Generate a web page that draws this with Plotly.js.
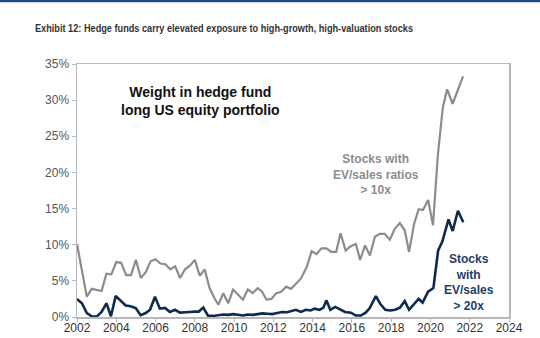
<!DOCTYPE html>
<html>
<head>
<meta charset="utf-8">
<script src="https://cdn.plot.ly/plotly-3.0.1.min.js"></script>
<style>
html,body{margin:0;padding:0;background:#fff;}
#chart{width:540px;height:338px;}
</style>
</head>
<body>
<div id="chart"></div>
<script>
// Stocks with EV/sales ratios > 10x (weight, %)
const grayYears = [2002.0,2002.5,2002.75,2003.0,2003.25,2003.5,2003.75,2004.0,2004.25,2004.5,2004.75,2005.0,2005.25,2005.5,2005.75,2006.0,2006.25,2006.5,2006.75,2007.0,2007.25,2007.5,2007.75,2008.0,2008.25,2008.5,2008.75,2009.0,2009.2,2009.45,2009.7,2009.95,2010.2,2010.45,2010.7,2010.95,2011.2,2011.4,2011.65,2011.9,2012.15,2012.4,2012.65,2012.9,2013.15,2013.4,2013.7,2013.95,2014.2,2014.45,2014.7,2014.95,2015.2,2015.42,2015.68,2015.94,2016.2,2016.42,2016.67,2016.92,2017.17,2017.42,2017.67,2017.93,2018.18,2018.44,2018.69,2018.91,2019.17,2019.4,2019.62,2019.88,2020.13,2020.38,2020.63,2020.85,2021.13,2021.4,2021.66];
const grayValues = [10.1,2.8,3.9,3.8,3.6,6.0,5.9,7.6,7.5,5.8,5.8,7.9,5.4,6.2,7.7,8.0,7.4,7.3,6.6,7.0,5.4,6.6,7.1,7.9,5.7,6.6,4.0,2.6,1.7,3.3,1.9,3.8,3.1,2.4,3.8,3.3,4.0,3.6,2.4,2.5,3.3,3.5,4.2,3.9,4.6,5.3,6.9,9.1,8.7,9.5,9.5,9.0,9.0,11.6,9.2,9.8,10.1,7.9,9.9,8.5,11.1,11.5,11.5,10.7,12.2,13.0,12.0,9.0,12.9,14.9,14.8,16.2,12.7,22.5,29.0,31.5,29.5,31.3,33.3];

// Stocks with EV/sales > 20x (weight, %)
const blueYears = [2002.0,2002.25,2002.5,2002.75,2003.0,2003.25,2003.5,2003.73,2003.97,2004.22,2004.48,2004.73,2004.99,2005.24,2005.5,2005.72,2005.97,2006.22,2006.48,2006.73,2006.99,2007.24,2007.5,2007.75,2008.0,2008.2,2008.43,2008.68,2008.93,2009.2,2009.45,2009.7,2009.95,2010.2,2010.45,2010.7,2010.95,2011.2,2011.45,2011.7,2011.95,2012.2,2012.45,2012.7,2012.95,2013.15,2013.4,2013.65,2013.9,2014.1,2014.35,2014.55,2014.7,2014.9,2015.15,2015.4,2015.65,2015.95,2016.2,2016.45,2016.7,2016.9,2017.22,2017.45,2017.7,2017.95,2018.2,2018.45,2018.69,2018.91,2019.17,2019.4,2019.6,2019.88,2020.15,2020.39,2020.6,2020.92,2021.13,2021.4,2021.67];
const blueValues = [2.5,1.9,0.55,0.1,0.05,0.7,1.9,0.1,2.9,2.2,1.6,1.5,1.25,0.25,0.55,1.0,2.8,1.15,1.25,0.7,1.0,0.6,0.6,0.7,0.75,0.75,1.3,0.15,0.15,0.25,0.35,0.3,0.4,0.3,0.2,0.35,0.3,0.4,0.5,0.45,0.4,0.55,0.7,0.65,0.85,1.0,0.7,1.0,0.9,1.15,1.0,1.3,2.3,1.0,1.4,1.0,0.7,0.6,0.2,0.2,0.6,1.2,2.9,1.8,1.0,0.9,1.0,1.3,2.2,1.0,1.8,2.5,2.0,3.5,4.0,9.2,10.4,13.5,11.9,14.7,13.1];

const xTicks = [2002,2004,2006,2008,2010,2012,2014,2016,2018,2020,2022,2024];
const yTicks = [0,5,10,15,20,25,30,35];
const yTickLabels = ['0%','5%','10%','15%','20%','25%','30%','35%'];

const titleText = 'Exhibit 12: Hedge funds carry elevated exposure to high-growth, high-valuation stocks';

const traces = [
  {x: grayYears, y: grayValues, type: 'scatter', mode: 'lines',
   line: {color: '#8c8c8c', width: 2.2}, hoverinfo: 'skip'},
  {x: blueYears, y: blueValues, type: 'scatter', mode: 'lines',
   line: {color: '#0d2b4e', width: 2.6}, hoverinfo: 'skip'}
];

const font = 'Liberation Sans, Arial, sans-serif';
const layout = {
  width: 540, height: 338,
  margin: {l: 77, r: 31, t: 64, b: 21, pad: 0},
  paper_bgcolor: '#ffffff', plot_bgcolor: '#ffffff',
  showlegend: false,
  font: {family: font, size: 12, color: '#404040'},
  title: {
    text: '<b>' + titleText + '</b>',
    font: {family: 'Liberation Sans Narrow, Arial Narrow, Liberation Sans, sans-serif', size: 11, color: '#333333'},
    x: 35/540, xanchor: 'left', xref: 'container',
    y: 1 - 28/338, yanchor: 'middle', yref: 'container'
  },
  xaxis: {
    range: [2002, 2024], tickvals: xTicks, ticktext: xTicks.map(String),
    showgrid: false, zeroline: false,
    showline: true, linecolor: '#b8b8b8', linewidth: 1.5, mirror: true,
    ticks: 'outside', ticklen: 3, tickcolor: '#b8b8b8',
    ticklabelstandoff: -4,
    tickfont: {family: font, size: 12, color: '#333333'},
    automargin: false, fixedrange: true
  },
  yaxis: {
    range: [0, 35], tickvals: yTicks, ticktext: yTickLabels,
    showgrid: false, zeroline: false,
    showline: true, linecolor: '#b8b8b8', linewidth: 1.5, mirror: true,
    ticks: 'outside', ticklen: 4, tickcolor: '#b8b8b8',
    tickfont: {family: font, size: 12, color: '#555555'},
    automargin: false, fixedrange: true
  },
  shapes: [
    {type: 'line', xref: 'paper', yref: 'paper',
     x0: -77/432, x1: 1 + 31/432, y0: 1 + 63/253, y1: 1 + 63/253,
     line: {color: '#1f4e79', width: 2.5}}
  ],
  annotations: [
    {xref: 'paper', yref: 'paper', x: (200.5-77)/432, y: (338-21-101)/253,
     text: '<b>Weight in hedge fund<br>long US equity portfolio</b>',
     showarrow: false, align: 'center', xanchor: 'center', yanchor: 'middle',
     font: {family: font, size: 14, color: '#111111'}},
    {xref: 'paper', yref: 'paper', x: (376-77)/432, y: (338-21-174)/253,
     text: '<b>Stocks with<br>EV/sales ratios<br>&gt; 10x</b>',
     showarrow: false, align: 'center', xanchor: 'center', yanchor: 'middle',
     font: {family: font, size: 12, color: '#8c8c8c'}},
    {xref: 'paper', yref: 'paper', x: (469-77)/432, y: (338-21-282)/253,
     text: '<b>Stocks<br>with<br>EV/sales<br>&gt; 20x</b>',
     showarrow: false, align: 'center', xanchor: 'center', yanchor: 'middle',
     font: {family: font, size: 12, color: '#1f3d66'}}
  ]
};

Plotly.newPlot('chart', traces, layout, {displayModeBar: false, staticPlot: true}).then(function(gd){
  // condense the title to match the narrow typeface of the original
  const t = gd.querySelector('.gtitle');
  if (t) {
    t.setAttribute('textLength', '378');
    t.setAttribute('lengthAdjust', 'spacingAndGlyphs');
  }
});
</script>
</body>
</html>
